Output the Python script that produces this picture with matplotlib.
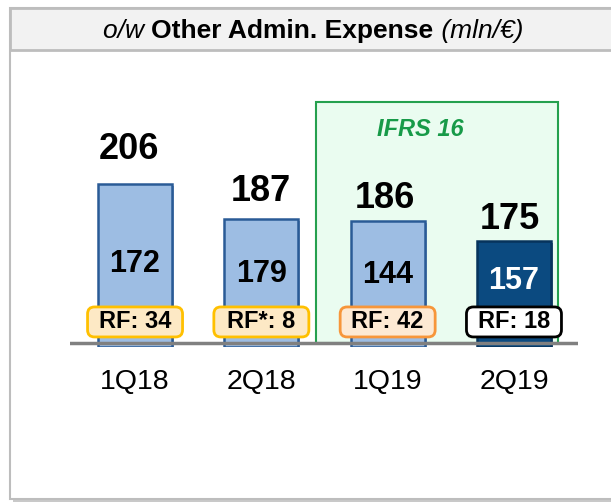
import numpy as np
import matplotlib
matplotlib.use("Agg")
import matplotlib.pyplot as plt
from matplotlib.patches import Rectangle, FancyBboxPatch
from matplotlib.transforms import ScaledTranslation

plt.rcParams["font.family"] = ["Liberation Sans", "DejaVu Sans"]

# Data
quarters = ["1Q18", "2Q18", "1Q19", "2Q19"]
totals = [206, 187, 186, 175]
ow_values = [172, 179, 144, 157]
rf_labels = ["RF: 34", "RF*: 8", "RF: 42", "RF: 18"]

# Styling
W, H = 611, 503
BASE = 119.7          # value at the baseline (axis does not start at zero)
Y_LO, Y_HI = 117.5, 273.3
X_LO, X_HI = -0.515, 3.507
bar_face = ["#9dbde3", "#9dbde3", "#9dbde3", "#0b4a80"]
bar_edge = ["#2a5b96", "#2a5b96", "#2a5b96", "#06335c"]
shadow_col = ["#8aa3c4", "#8aa3c4", "#8aa3c4", "#5d7590"]
inner_color = ["black", "black", "black", "white"]
rf_face = ["#fde9c5", "#fde9c5", "#fde9d3", "white"]
rf_edge = ["#ffc000", "#ffc000", "#f7963a", "black"]
total_dx = [-6, 0, -3, -4]      # pixel nudges of the total labels
total_dy = [18, 13, 9, 9]       # points above the bar top

fig = plt.figure(figsize=(W / 100, H / 100), dpi=100)


def fx(px):
    return px / W


def fy(py):
    return 1 - py / H


# Outer frame with shadow and title band
fig.add_artist(Rectangle((fx(13), fy(502)), fx(640) - fx(13), fy(11) - fy(502),
                         transform=fig.transFigure, facecolor="#c9c9c9", edgecolor="none", zorder=-3))
fig.add_artist(Rectangle((fx(10), fy(499)), fx(640) - fx(10), fy(8) - fy(499),
                         transform=fig.transFigure, facecolor="white", edgecolor="#bdbdbd",
                         linewidth=1.5, zorder=-2))
fig.add_artist(Rectangle((fx(10), fy(50)), fx(640) - fx(10), fy(8) - fy(50),
                         transform=fig.transFigure, facecolor="#f2f2f2", edgecolor="#bdbdbd",
                         linewidth=2, zorder=-1))

# Title made of three differently styled parts
parts = [("o/w ", dict(style="italic", weight="normal")),
         ("Other Admin. Expense", dict(weight="bold")),
         (" (mln/€)", dict(style="italic", weight="normal"))]
texts = [fig.text(0, fy(31), s, fontsize=19, va="center", ha="left", **kw) for s, kw in parts]
renderer = fig.canvas.get_renderer()
widths = [t.get_window_extent(renderer).width for t in texts]
x = 313 - sum(widths) / 2
for t, w in zip(texts, widths):
    t.set_x(fx(x))
    x += w

# Chart area
ax = fig.add_axes([fx(70), fy(347), fx(578) - fx(70), fy(60) - fy(347)])
ax.set_zorder(1)
ax.patch.set_visible(False)
ax.set_xlim(X_LO, X_HI)
ax.set_ylim(Y_LO, Y_HI)
ax.axis("off")

xpos = np.arange(len(quarters))
bar_w = 0.585

# IFRS 16 highlight box behind the 2019 bars
ax.add_patch(Rectangle((1.433, BASE), 3.349 - 1.433, 250.5 - BASE,
                       facecolor="#eafcf0", edgecolor="#25a04e", linewidth=1.5, zorder=0))
ax.text(2.256, 235.3, "IFRS 16", color="#179a48", fontsize=17, fontweight="bold",
        fontstyle="italic", ha="center", va="center")

# soft drop shadow, then the bars
shift = ax.transData + ScaledTranslation(2 / 100, -2 / 100, fig.dpi_scale_trans)
ax.bar(xpos, np.array(totals) - Y_LO, bottom=Y_LO, width=bar_w,
       color=shadow_col, linewidth=0, zorder=1.9, transform=shift)
bars = ax.bar(xpos, np.array(totals) - Y_LO, bottom=Y_LO, width=bar_w,
              color=bar_face, edgecolor=bar_edge, linewidth=1.8, zorder=2)

ax.axhline(BASE, color="#808080", linewidth=2.5, zorder=3)

# units per pixel, used to keep the rounded corners circular
px_x = (X_HI - X_LO) / (578 - 70)
px_y = (Y_HI - Y_LO) / (347 - 60)
aspect = px_y / px_x

for i in xpos:
    # total on top
    ax.annotate(str(totals[i]), (i, totals[i]), xytext=(total_dx[i] * 0.72, total_dy[i]),
                textcoords="offset points", ha="center", va="baseline",
                fontsize=26, fontweight="bold", zorder=5)
    # o/w value inside the bar
    ax.text(i, BASE + 0.3 * (totals[i] - BASE) + 17, str(ow_values[i]), ha="center",
            va="center", fontsize=22, fontweight="bold", color=inner_color[i], zorder=5)
    # RF tag near the baseline
    bw, bh = 95 * px_x, 30 * px_y
    yc = 131.1
    ax.add_patch(FancyBboxPatch((i - bw / 2, yc - bh / 2), bw, bh,
                                boxstyle="round,pad=0,rounding_size=%f" % (7 * px_x),
                                mutation_aspect=aspect, facecolor=rf_face[i],
                                edgecolor=rf_edge[i], linewidth=2, zorder=4))
    ax.text(i, yc, rf_labels[i], ha="center", va="center", fontsize=17,
            fontweight="bold", zorder=5)
    # category label
    ax.annotate(quarters[i], (i, BASE), xytext=(0, -28), textcoords="offset points",
                ha="center", va="center", fontsize=20.5, annotation_clip=False)

fig.savefig("out.png", dpi=100)
